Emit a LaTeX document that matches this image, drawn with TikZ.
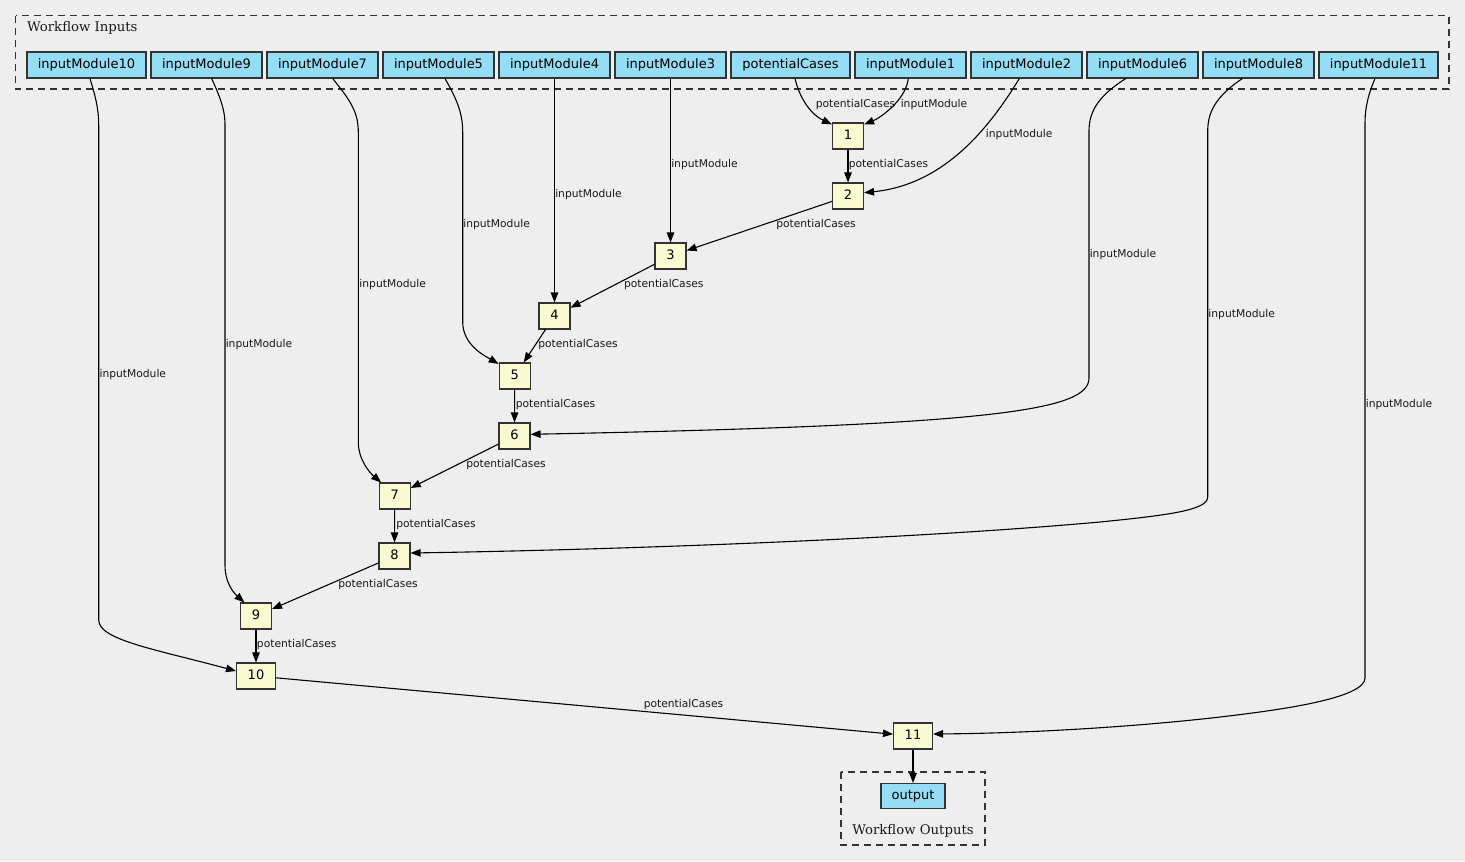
\documentclass[tikz,border=0pt]{standalone}
\usepackage{fontspec}
\setmainfont{DejaVu Sans}
\newfontfamily\clusterfont{DejaVu Serif}
\usetikzlibrary{arrows.meta,calc}
\definecolor{bgc}{HTML}{EEEEEE}
\definecolor{inblue}{HTML}{94DDF4}
\definecolor{stepy}{HTML}{FAFAD2}
\definecolor{bord}{HTML}{333333}
\begin{document}
\begin{tikzpicture}[x=1bp,y=-1bp,
  inp/.style={draw=bord, fill=inblue, line width=1.1bp, minimum height=26bp, inner sep=0pt,
    font=\fontsize{13.05}{15}\selectfont, text height=9.6bp, text depth=2.6bp},
  stp/.style={draw=bord, fill=stepy, line width=1.1bp, minimum height=26bp, minimum width=31bp, inner sep=0pt,
    font=\fontsize{13.05}{15}\selectfont, text height=9.6bp, text depth=2.6bp},
  elab/.style={font=\fontsize{10.75}{12}\selectfont, inner sep=0pt, text=black!90},
  cl/.style={draw=bord, line width=1.2bp, dash pattern=on 7bp off 5bp},
  clab/.style={font=\clusterfont\fontsize{13.3}{15}\selectfont, inner sep=0pt, text=black!90},
  flow/.style={draw=black, line width=1.1bp, -{Triangle[length=10bp,width=7.5bp]}}]
\fill[bgc] (0,0) rectangle (1465,861);
\useasboundingbox (0,0) rectangle (1465,861);
% clusters
\draw[cl] (15.7,15.7) rectangle (1449,89);
\node[clab, anchor=west] (cin) at (27,28) {Workflow Inputs};
\draw[cl] (841,772) rectangle (985,845);
\node[clab] (cout) at (913,831) {Workflow Outputs};
% inputs
\node[inp, minimum width=119bp] (i10) at (86.5,65) {inputModule10};
\node[inp, minimum width=111bp] (i9) at (206.5,65) {inputModule9};
\node[inp, minimum width=111bp] (i7) at (322.5,65) {inputModule7};
\node[inp, minimum width=111bp] (i5) at (438.5,65) {inputModule5};
\node[inp, minimum width=111bp] (i4) at (554.5,65) {inputModule4};
\node[inp, minimum width=111bp] (i3) at (670.5,65) {inputModule3};
\node[inp, minimum width=119bp] (pc) at (790.5,65) {potentialCases};
\node[inp, minimum width=111bp] (i1) at (910.5,65) {inputModule1};
\node[inp, minimum width=111bp] (i2) at (1026.5,65) {inputModule2};
\node[inp, minimum width=111bp] (i6) at (1142.5,65) {inputModule6};
\node[inp, minimum width=111bp] (i8) at (1258.5,65) {inputModule8};
\node[inp, minimum width=119bp] (i11) at (1378.5,65) {inputModule11};
% steps
\node[stp] (s1) at (848,136) {1};
\node[stp] (s2) at (848,196) {2};
\node[stp] (s3) at (670.5,256) {3};
\node[stp] (s4) at (554.5,316) {4};
\node[stp] (s5) at (514.7,376) {5};
\node[stp] (s6) at (514.5,436) {6};
\node[stp] (s7) at (394.7,496) {7};
\node[stp] (s8) at (394.5,556) {8};
\node[stp] (s9) at (256,616) {9};
\node[stp, minimum width=39bp] (s10) at (256,676) {10};
\node[stp, minimum width=39bp] (s11) at (913,736) {11};
\node[inp, minimum width=64bp, minimum height=25bp] (out) at (913,796) {output};
% straight chain
\draw[flow] (s1) -- (s2);
\draw[flow] (s2) -- (s3);
\draw[flow] (s3) -- (s4);
\draw[flow] (s4) -- (s5);
\draw[flow] (s5) -- (s6);
\draw[flow] (s6) -- (s7);
\draw[flow] (s7) -- (s8);
\draw[flow] (s8) -- (s9);
\draw[flow] (s9) -- (s10);
\draw[flow] (s10) -- (s11);
\draw[flow] (s11) -- (out);
% inputs to steps
\draw[flow] ($(pc.south)+(4.5,0)$) .. controls (800,100) and (812,115) .. ($(s1.north west)+(0,2)$);
\draw[flow] ($(i1.south)+(-2.2,0)$) .. controls (906,100) and (880,118) .. ($(s1.north east)+(0,2)$);
\draw[flow] ($(i2.south)+(-7.2,0)$) .. controls (985,135) and (940,185) .. ($(s2.east)+(0,-3.3)$);
\draw[flow] (i3.south) -- (s3.north);
\draw[flow] (i4.south) -- (s4.north);
\draw[flow] ($(i5.south)+(6.5,0)$) .. controls (456,98) and (462.7,112) .. (462.7,132) -- (462.7,322)
  .. controls (462.7,345) and (485,356) .. ($(s5.north west)+(0,1.5)$);
\draw[flow] ($(i6.south)+(-16.8,0)$) .. controls (1100,95) and (1089,110) .. (1089,131) -- (1089,378)
  .. controls (1089,410) and (1000,425) .. ($(s6.east)+(0,-1.7)$);
\draw[flow] ($(i7.south)+(10.2,0)$) .. controls (348,98) and (358.3,110) .. (358.3,132) -- (358.3,442)
  .. controls (358.3,460) and (370,473) .. ($(s7.north west)+(2.5,0)$);
\draw[flow] ($(i8.south)+(-16.2,0)$) .. controls (1218,95) and (1207.7,110) .. (1207.7,131) -- (1207.7,497)
  .. controls (1207.7,510) and (1170,515) .. (1100,522) .. controls (900,540) and (600,550) .. ($(s8.east)+(0,-3)$);
\draw[flow] ($(i9.south)+(5.2,0)$) .. controls (219,95) and (225,108) .. (225,125) -- (225,565)
  .. controls (225,585) and (236,595) .. ($(s9.north west)+(4.5,0)$);
\draw[flow] ($(i10.south)+(3.5,0)$) .. controls (95,95) and (98.7,108) .. (98.7,125) -- (98.7,620)
  .. controls (98.7,640) and (156,649.4) .. ($(s10.west)+(0,-5)$);
\draw[flow] ($(i11.south)+(-3.5,0)$) .. controls (1368,95) and (1365,108) .. (1365,123) -- (1365,678)
  .. controls (1365,697) and (1290,708) .. (1250,713.3) .. controls (1170,724) and (1050,733) .. ($(s11.east)+(0,-2)$);
% edge labels
\node[elab] (l1) at (855.5,104.7) {potentialCases};
\node[elab] (l2) at (934,104.7) {inputModule};
\node[elab] (l3) at (888.5,164.7) {potentialCases};
\node[elab] (l4) at (1019.2,134.7) {inputModule};
\node[elab] (l5) at (704.5,164.7) {inputModule};
\node[elab] (l6) at (816,224.7) {potentialCases};
\node[elab] (l7) at (588.5,194.7) {inputModule};
\node[elab] (l8) at (663.8,284.7) {potentialCases};
\node[elab] (l9) at (496.6,224.7) {inputModule};
\node[elab] (l10) at (578,344.7) {potentialCases};
\node[elab] (l11) at (1123,254.7) {inputModule};
\node[elab] (l12) at (555.5,404.7) {potentialCases};
\node[elab] (l13) at (392.7,284.7) {inputModule};
\node[elab] (l14) at (506,464.7) {potentialCases};
\node[elab] (l15) at (1241.7,314.7) {inputModule};
\node[elab] (l16) at (436,524.7) {potentialCases};
\node[elab] (l17) at (259,344.7) {inputModule};
\node[elab] (l18) at (378,584.7) {potentialCases};
\node[elab] (l19) at (132.8,374.7) {inputModule};
\node[elab] (l20) at (296.7,644.7) {potentialCases};
\node[elab] (l21) at (1399,404.7) {inputModule};
\node[elab] (l22) at (683.5,704.7) {potentialCases};
\end{tikzpicture}
\end{document}
